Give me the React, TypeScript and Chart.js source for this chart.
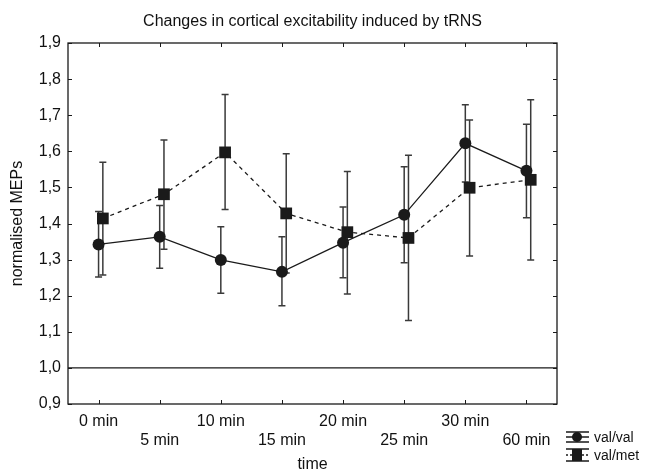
import React, { useEffect, useRef } from 'react';
import { Chart, registerables } from 'chart.js';

Chart.register(...registerables);

// ---------- data ----------
const chartTitle = 'Changes in cortical excitability induced by tRNS';
const xAxisTitle = 'time';
const yAxisTitle = 'normalised MEPs';
const timeLabels = ['0 min', '5 min', '10 min', '15 min', '20 min', '25 min', '30 min', '60 min'];
const timeIndex = [0, 1, 2, 3, 4, 5, 6, 7];
const yTickValues = [0.9, 1.0, 1.1, 1.2, 1.3, 1.4, 1.5, 1.6, 1.7, 1.8, 1.9];
const referenceValue = 1.0;

const seriesNames = ['val/val', 'val/met'];
const valValMean = [1.342, 1.363, 1.299, 1.266, 1.347, 1.424, 1.622, 1.546];
const valValUpper = [1.433, 1.450, 1.391, 1.363, 1.446, 1.557, 1.729, 1.675];
const valValLower = [1.252, 1.276, 1.207, 1.172, 1.250, 1.291, 1.515, 1.416];
const valMetMean = [1.414, 1.481, 1.597, 1.428, 1.376, 1.360, 1.499, 1.521];
const valMetUpper = [1.570, 1.631, 1.757, 1.593, 1.544, 1.589, 1.687, 1.743];
const valMetLower = [1.257, 1.329, 1.439, 1.263, 1.205, 1.131, 1.310, 1.299];

// ---------- style ----------
const FONT = '"Liberation Sans", Arial, Helvetica, sans-serif';
const INK = '#1a1a1a';
const BAR = '#3a3a3a';
const valMetShift = 0.07; // small horizontal jitter of second series

const decorPlugin = {
  id: 'decor',
  beforeDatasetsDraw(chart: any) {
    const { ctx, chartArea: a, scales } = chart;
    const xs = scales.x;
    const ys = scales.y;
    ctx.save();
    ctx.strokeStyle = INK;
    ctx.lineWidth = 1.3;
    // reference line
    const yr = ys.getPixelForValue(referenceValue);
    ctx.beginPath();
    ctx.moveTo(a.left, yr);
    ctx.lineTo(a.right, yr);
    ctx.stroke();
    // frame
    ctx.strokeRect(a.left, a.top, a.right - a.left, a.bottom - a.top);
    // inward ticks
    ctx.lineWidth = 1;
    ctx.beginPath();
    xs.ticks.forEach((t: any) => {
      const px = Math.round(xs.getPixelForValue(t.value)) + 0.5;
      ctx.moveTo(px, a.bottom);
      ctx.lineTo(px, a.bottom - 4);
      ctx.moveTo(px, a.top);
      ctx.lineTo(px, a.top + 4);
    });
    ys.ticks.forEach((t: any) => {
      const py = Math.round(ys.getPixelForValue(t.value)) + 0.5;
      ctx.moveTo(a.left, py);
      ctx.lineTo(a.left + 4, py);
      ctx.moveTo(a.right, py);
      ctx.lineTo(a.right - 4, py);
    });
    ctx.stroke();
    // error bars
    ctx.strokeStyle = BAR;
    ctx.lineWidth = 1.5;
    chart.data.datasets.forEach((ds: any, di: number) => {
      const meta = chart.getDatasetMeta(di);
      meta.data.forEach((pt: any, i: number) => {
        const px = pt.x;
        const yt = ys.getPixelForValue(ds.errUpper[i]);
        const yb = ys.getPixelForValue(ds.errLower[i]);
        ctx.beginPath();
        ctx.moveTo(px, yt);
        ctx.lineTo(px, yb);
        ctx.moveTo(px - 3.5, yt);
        ctx.lineTo(px + 3.5, yt);
        ctx.moveTo(px - 3.5, yb);
        ctx.lineTo(px + 3.5, yb);
        ctx.stroke();
      });
    });
    ctx.restore();
  },
  afterDraw(chart: any) {
    const { ctx } = chart;
    ctx.save();
    const x0 = 566;
    const x1 = 589;
    const cx = 577;
    const rows = [437, 455];
    ctx.strokeStyle = INK;
    ctx.fillStyle = INK;
    // val/val symbol
    let cy = rows[0];
    ctx.lineWidth = 1.3;
    ctx.beginPath();
    ctx.moveTo(x0, cy - 5); ctx.lineTo(x1, cy - 5);
    ctx.moveTo(x0, cy); ctx.lineTo(x1, cy);
    ctx.moveTo(x0, cy + 5); ctx.lineTo(x1, cy + 5);
    ctx.stroke();
    ctx.beginPath();
    ctx.arc(cx, cy, 5, 0, Math.PI * 2);
    ctx.fill();
    // val/met symbol
    cy = rows[1];
    ctx.beginPath();
    ctx.moveTo(x0, cy - 6); ctx.lineTo(x1, cy - 6);
    ctx.moveTo(x0, cy + 6); ctx.lineTo(x1, cy + 6);
    ctx.stroke();
    ctx.setLineDash([2, 2]);
    ctx.beginPath();
    ctx.moveTo(x0, cy); ctx.lineTo(x1, cy);
    ctx.stroke();
    ctx.setLineDash([]);
    ctx.fillRect(cx - 5, cy - 6, 10, 12);
    // labels
    ctx.font = `14px ${FONT}`;
    ctx.textBaseline = 'middle';
    ctx.textAlign = 'left';
    ctx.fillStyle = '#111';
    chart.data.datasets.forEach((ds: any, i: number) => {
      ctx.fillText(ds.label, 594, rows[i] + 1);
    });
    ctx.restore();
  },
};

export default function App() {
  const ref = useRef<HTMLCanvasElement>(null);
  useEffect(() => {
    document.body.style.margin = '0';
    const canvas = ref.current;
    if (!canvas) return;
    const chart = new Chart(canvas, {
      type: 'line',
      data: {
        datasets: [
          {
            label: seriesNames[0],
            data: timeIndex.map((x, i) => ({ x, y: valValMean[i] })),
            errUpper: valValUpper,
            errLower: valValLower,
            borderColor: INK,
            borderWidth: 1.3,
            pointStyle: 'circle',
            pointRadius: 6,
            pointBackgroundColor: INK,
            pointBorderColor: INK,
            pointBorderWidth: 0,
            tension: 0,
          } as any,
          {
            label: seriesNames[1],
            data: timeIndex.map((x, i) => ({ x: x + valMetShift, y: valMetMean[i] })),
            errUpper: valMetUpper,
            errLower: valMetLower,
            borderColor: INK,
            borderWidth: 1.3,
            borderDash: [4, 4],
            pointStyle: 'rect',
            pointRadius: 8.3,
            pointBackgroundColor: INK,
            pointBorderColor: INK,
            pointBorderWidth: 0,
            tension: 0,
          } as any,
        ],
      },
      options: {
        animation: false,
        responsive: false,
        devicePixelRatio: 1,
        layout: { padding: { top: 0, left: 0, right: 96, bottom: 0 } },
        plugins: {
          legend: { display: false },
          tooltip: { enabled: false },
          title: {
            display: true,
            text: chartTitle,
            fullSize: false,
            color: '#111',
            font: { family: FONT, size: 16, weight: 'normal', lineHeight: 1.2 },
            padding: { top: 12, bottom: 11.8 },
          },
        },
        scales: {
          x: {
            type: 'linear',
            min: -0.5,
            max: 7.5,
            grid: { display: false, drawTicks: false },
            border: { display: false },
            afterBuildTicks: (scale: any) => {
              scale.ticks = timeIndex.map((v) => ({ value: v }));
            },
            afterFit: (scale: any) => {
              scale.height = 70;
            },
            ticks: {
              autoSkip: false,
              maxRotation: 0,
              minRotation: 0,
              padding: 8,
              color: '#111',
              font: { family: FONT, size: 16, lineHeight: 1.1875 },
              callback: (v: any) => {
                const i = Math.round(Number(v));
                return i % 2 === 0 ? timeLabels[i] : ['', timeLabels[i]];
              },
            },
            title: {
              display: true,
              text: xAxisTitle,
              color: '#111',
              font: { family: FONT, size: 16, lineHeight: 1.2 },
              padding: { top: 0, bottom: 0 },
            },
          },
          y: {
            type: 'linear',
            min: 0.9,
            max: 1.9,
            grid: { display: false, drawTicks: false },
            border: { display: false },
            afterBuildTicks: (scale: any) => {
              scale.ticks = yTickValues.map((v) => ({ value: v }));
            },
            afterFit: (scale: any) => {
              scale.width = 68;
            },
            ticks: {
              padding: 7,
              color: '#111',
              font: { family: FONT, size: 16 },
              callback: (v: any) => Number(v).toFixed(1).replace('.', ','),
            },
            title: {
              display: true,
              text: yAxisTitle,
              color: '#111',
              font: { family: FONT, size: 16, lineHeight: 1.2 },
              padding: { top: 8, bottom: 0 },
            },
          },
        },
      } as any,
      plugins: [decorPlugin],
    });
    return () => chart.destroy();
  }, []);
  return (
    <div style={{ width: 653, height: 474 }}>
      <canvas ref={ref} width={653} height={474} style={{ display: 'block' }} />
    </div>
  );
}
